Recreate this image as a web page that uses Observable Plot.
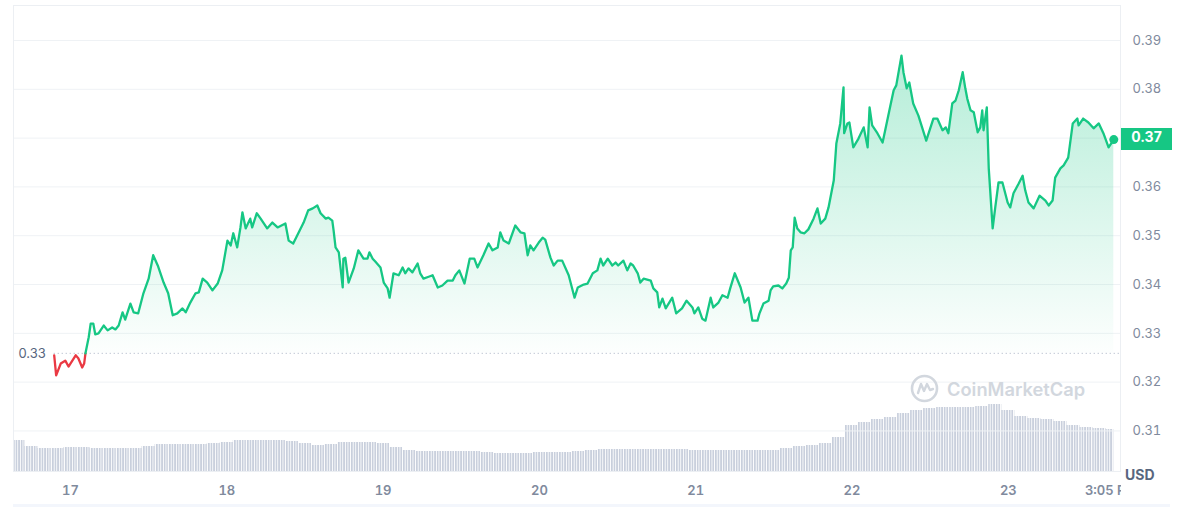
<!DOCTYPE html>
<html><head><meta charset="utf-8">
<script src="https://cdn.jsdelivr.net/npm/d3@7"></script>
<script src="https://cdn.jsdelivr.net/npm/@observablehq/plot@0.6"></script>
<style>
html,body{margin:0;padding:0;background:#fff;}
#chart{position:relative;width:1192px;height:507px;overflow:hidden;font-family:Inter,"Noto Sans",sans-serif;}
#chart > svg{position:absolute;left:0;top:0;}
#chart [aria-label^="x-axis"] text{font-weight:600;}
.ov{position:absolute;}
</style></head>
<body><div id="chart"></div>
<script>
// ---- data ----
// hours since 17th 00:00, price in USD
const pricePoints = [
[-2.5,.3255],[-2.2,.3214],[-1.5,.3238],[-0.8,.3244],[-0.3,.3232],[0.8,.3255],[1.2,.3249],[1.8,.3230],[2.1,.3238],[2.3,.3259],
[2.8,.3292],[3.1,.3320],[3.5,.3320],[3.8,.3298],[4.3,.3300],[5.1,.3316],[5.7,.3306],[6.4,.3312],[6.9,.3308],[7.4,.3316],
[8.0,.3343],[8.4,.3328],[9.2,.3361],[9.7,.3343],[10.4,.3341],[11.2,.3382],[12.0,.3412],[12.7,.3460],[13.4,.3439],[14.3,.3404],
[15.0,.3382],[15.7,.3337],[16.4,.3341],[17.2,.3351],[17.7,.3343],[18.4,.3363],[19.2,.3382],[19.7,.3384],[20.3,.3412],[21.0,.3404],
[21.8,.3388],[22.6,.3402],[23.3,.3429],[24.1,.3490],[24.6,.3480],[25.0,.3505],[25.6,.3476],[26.1,.3517],[26.4,.3548],[26.9,.3515],
[27.6,.3535],[27.9,.3517],[28.6,.3546],[29.2,.3535],[30.2,.3515],[31.0,.3527],[31.8,.3517],[33.0,.3525],[33.5,.3490],[34.2,.3484],
[35.8,.3527],[36.5,.3552],[37.2,.3556],[37.9,.3562],[38.4,.3546],[39.2,.3535],[39.6,.3537],[40.2,.3531],[40.4,.3511],[40.7,.3476],
[41.2,.3466],[41.8,.3394],[41.9,.3453],[42.2,.3455],[42.7,.3404],[43.5,.3433],[44.2,.3470],[45.0,.3453],[45.6,.3453],[45.9,.3466],
[46.4,.3453],[46.8,.3447],[47.6,.3435],[48.1,.3404],[48.7,.3392],[49.0,.3373],[49.6,.3423],[50.4,.3419],[51.0,.3435],[51.4,.3423],
[51.9,.3433],[52.5,.3425],[53.3,.3443],[53.7,.3423],[54.2,.3412],[55.0,.3416],[55.6,.3419],[56.4,.3394],[57.1,.3398],[57.9,.3408],
[58.7,.3408],[59.1,.3419],[59.7,.3429],[60.5,.3402],[61.3,.3453],[62.0,.3453],[62.5,.3435],[63.4,.3460],[64.2,.3484],[64.8,.3470],
[65.6,.3476],[66.0,.3507],[66.5,.3490],[67.3,.3484],[68.3,.3521],[69.1,.3507],[69.7,.3505],[70.2,.3460],[70.6,.3480],[71.1,.3470],
[71.9,.3486],[72.5,.3496],[72.9,.3492],[73.7,.3455],[74.2,.3439],[74.8,.3449],[75.5,.3449],[76.5,.3419],[77.4,.3373],[77.9,.3394],
[78.8,.3400],[79.4,.3402],[80.2,.3423],[80.9,.3429],[81.4,.3453],[81.8,.3439],[82.5,.3453],[83.2,.3439],[83.7,.3445],[84.1,.3439],
[84.9,.3449],[85.5,.3429],[86.0,.3443],[86.4,.3439],[87.1,.3423],[87.5,.3404],[88.0,.3412],[89.1,.3408],[89.5,.3392],[90.1,.3384],
[90.4,.3353],[90.9,.3371],[91.4,.3351],[92.4,.3373],[93.0,.3341],[93.9,.3351],[94.6,.3367],[95.5,.3353],[95.8,.3341],[96.4,.3353],
[97.0,.3330],[97.5,.3326],[98.3,.3373],[98.7,.3353],[99.5,.3363],[100.1,.3378],[100.9,.3373],[101.3,.3392],[102.0,.3423],[102.9,.3394],
[103.5,.3363],[104.1,.3373],[104.7,.3326],[105.5,.3326],[105.8,.3341],[106.4,.3361],[107.2,.3367],[107.5,.3388],[107.9,.3396],[108.7,.3398],
[109.3,.3392],[109.9,.3402],[110.3,.3414],[110.6,.3470],[110.9,.3476],[111.2,.3537],[111.6,.3515],[112.1,.3507],[112.7,.3505],[113.3,.3513],
[114.1,.3535],[114.7,.3556],[115.2,.3525],[115.9,.3535],[116.4,.3558],[117.2,.3613],[117.6,.3689],[118.2,.3730],[118.7,.3804],[118.8,.3710],
[119.3,.3730],[119.6,.3732],[120.2,.3681],[121.0,.3699],[121.8,.3722],[122.4,.3681],[122.7,.3763],[123.1,.3726],[123.9,.3710],[124.7,.3691],
[125.1,.3716],[125.9,.3767],[126.4,.3798],[126.8,.3808],[127.6,.3869],[127.9,.3835],[128.4,.3802],[128.8,.3814],[129.4,.3771],[130.2,.3746],
[131.4,.3695],[132.5,.3740],[133.1,.3740],[133.9,.3716],[134.4,.3722],[134.8,.3710],[135.4,.3771],[135.9,.3777],[136.4,.3798],[137.0,.3835],
[137.4,.3802],[137.7,.3781],[138.2,.3757],[138.7,.3753],[139.3,.3712],[139.7,.3722],[140.0,.3757],[140.2,.3716],[140.7,.3763],[141.0,.3638],
[141.6,.3515],[142.0,.3558],[142.5,.3609],[143.1,.3609],[143.9,.3568],[144.3,.3558],[144.8,.3587],[145.6,.3607],[146.2,.3623],[146.6,.3593],
[147.1,.3568],[147.9,.3556],[148.8,.3582],[149.7,.3572],[150.2,.3562],[150.8,.3572],[151.2,.3619],[152.0,.3638],[152.5,.3644],[153.2,.3660],
[153.9,.3730],[154.6,.3740],[154.8,.3726],[155.5,.3740],[156.3,.3732],[157.1,.3720],[157.9,.3730],[158.6,.3710],[159.4,.3681],[160.2,.3697]
];
const baselinePrice = 0.3259;           // price at the start of the period
const yTicks = [0.31,0.32,0.33,0.34,0.35,0.36,0.37,0.38,0.39];
const xTicks = [0,24,48,72,96,120,144,159.8];
const xTickLabels = ["17","18","19","20","21","22","23","3:05 PM"];
// 24h volume (relative units), one value per 2-hour step starting at hour -9
const volume = [31,25,23,23,24,24,23,23,23,23,25,27,27,27,27,28,29,31,31,31,
31,30,28,26,27,29,29,29,28,24,21,20,20,20,20,20,19,18,18,18,
19,19,19,20,21,22,22,22,22,22,22,22,21,21,21,21,21,21,21,23,
25,26,28,34,46,49,52,54,58,61,63,64,64,64,65,67,61,55,53,52,
50,46,44,43,42];
const volStartHour = -9, volStepHours = 2;

// ---- layout ----
const W = 1192, H = 507;
const margins = {marginTop:5, marginRight:72, marginBottom:36, marginLeft:13};
const xDomain = [-8.75, 161.23];
const yDomain = [0.30169, 0.39717];
const GREEN = "#16c784", RED = "#ea3943";

const data = pricePoints.map(([h,p]) => ({h, p}));
const splitIdx = data.findIndex(d => d.p >= baselinePrice);
const redPart = data.slice(0, splitIdx + 1);
const greenPart = data.slice(splitIdx);
const last = data[data.length - 1];
const volData = volume.map((v, i) => {
  const s = volStartHour + i * volStepHours;
  return {x1: Math.max(s, xDomain[0]), x2: Math.min(s + volStepHours, last.h), v};
});
const labelMap = new Map(xTicks.map((t, i) => [t, xTickLabels[i]]));

function defs(inner) {
  return () => {
    const el = document.createElementNS("http://www.w3.org/2000/svg", "defs");
    el.innerHTML = inner;
    return el;
  };
}

const chart = document.getElementById("chart");

const volPlot = Plot.plot({
  width: W, height: H, ...margins,
  x: {domain: xDomain, axis: null},
  y: {domain: [0, 466], axis: null},
  style: {background: "transparent"},
  marks: [
    defs(`<pattern id="volBars" patternUnits="userSpaceOnUse" width="2.6" height="10"><rect x="0" y="0" width="1.7" height="10" fill="#c8cfdc"/></pattern>`),
    Plot.rect(volData, {x1: "x1", x2: "x2", y1: () => 0, y2: "v", fill: "url(#volBars)"})
  ]
});
chart.appendChild(volPlot);

const pricePlot = Plot.plot({
  width: W, height: H, ...margins,
  x: {domain: xDomain, ticks: xTicks, tickFormat: d => labelMap.get(d), tickSize: 0, tickPadding: 14, label: null},
  y: {domain: yDomain, ticks: yTicks, tickFormat: d3.format(".2f"), axis: "right", tickSize: 0, tickPadding: 12, label: null},
  style: {background: "transparent", fontFamily: "Inter, sans-serif", fontSize: "13px", color: "#808a9d"},
  marks: [
    defs(`<linearGradient id="areaFill" x1="0" y1="0" x2="0" y2="1"><stop offset="0" stop-color="${GREEN}" stop-opacity="0.32"/><stop offset="1" stop-color="${GREEN}" stop-opacity="0.01"/></linearGradient>`),
    Plot.ruleY(yTicks, {stroke: "#eff2f5"}),
    Plot.frame({stroke: "#eceff3"}),
    Plot.areaY(greenPart, {x: "h", y1: () => baselinePrice, y2: "p", fill: "url(#areaFill)"}),
    Plot.ruleY([baselinePrice], {x1: () => data[0].h, x2: () => xDomain[1], stroke: "#a6b0c3", strokeDasharray: "1 3"}),
    Plot.text([baselinePrice], {y: d => d, frameAnchor: "left", dx: 5, textAnchor: "start", text: d => d3.format(".2f")(d), fill: "#58667e", fontSize: 13}),
    Plot.line(redPart, {x: "h", y: "p", stroke: RED, strokeWidth: 2.3}),
    Plot.line(greenPart, {x: "h", y: "p", stroke: GREEN, strokeWidth: 2.3}),
    Plot.dot([last], {x: "h", y: "p", r: 4.5, fill: GREEN})
  ]
});
chart.appendChild(pricePlot);

// overlays: clipping cover for the last x label, USD unit, current price tag, watermark
const ys = pricePlot.scale("y");
const yPx = ys.apply ? ys.apply(last.p) : d3.scaleLinear(ys.domain, ys.range)(last.p);

const cover = document.createElement("div");
cover.className = "ov";
Object.assign(cover.style, {left: "1121px", top: "472px", width: "71px", height: "35px", background: "#fff"});
chart.appendChild(cover);

const band = document.createElement("div");
band.className = "ov";
Object.assign(band.style, {left: "13px", top: "504px", width: "1157px", height: "3px", background: "#f3f6fc"});
chart.appendChild(band);

const usd = document.createElement("div");
usd.className = "ov";
usd.textContent = "USD";
Object.assign(usd.style, {left: "1125px", top: "467px", font: "700 14px Inter, sans-serif", lineHeight: "16px", color: "#58667e"});
chart.appendChild(usd);

const tag = document.createElement("div");
tag.className = "ov";
tag.textContent = d3.format(".2f")(last.p);
Object.assign(tag.style, {left: "1121px", top: (yPx - 11) + "px", width: "51px", height: "22px", lineHeight: "22px",
  background: GREEN, color: "#fff", font: "700 14px Inter, sans-serif", textAlign: "center"});
chart.appendChild(tag);

const wm = document.createElement("div");
wm.className = "ov";
Object.assign(wm.style, {left: "910px", top: "374px", display: "flex", alignItems: "center", gap: "8px", color: "#d2d7de", font: "600 18.3px Inter, sans-serif"});
wm.innerHTML = `<svg width="29" height="29" viewBox="0 0 29 29"><circle cx="14.5" cy="14.5" r="12.5" fill="none" stroke="#d2d7de" stroke-width="2.6"/><path d="M8 19 L11 10 L14 17 L17 10 L20 16 L23 15" fill="none" stroke="#d2d7de" stroke-width="2.4" stroke-linejoin="round" stroke-linecap="round"/></svg><span>CoinMarketCap</span>`;
chart.appendChild(wm);
</script>
</body></html>
